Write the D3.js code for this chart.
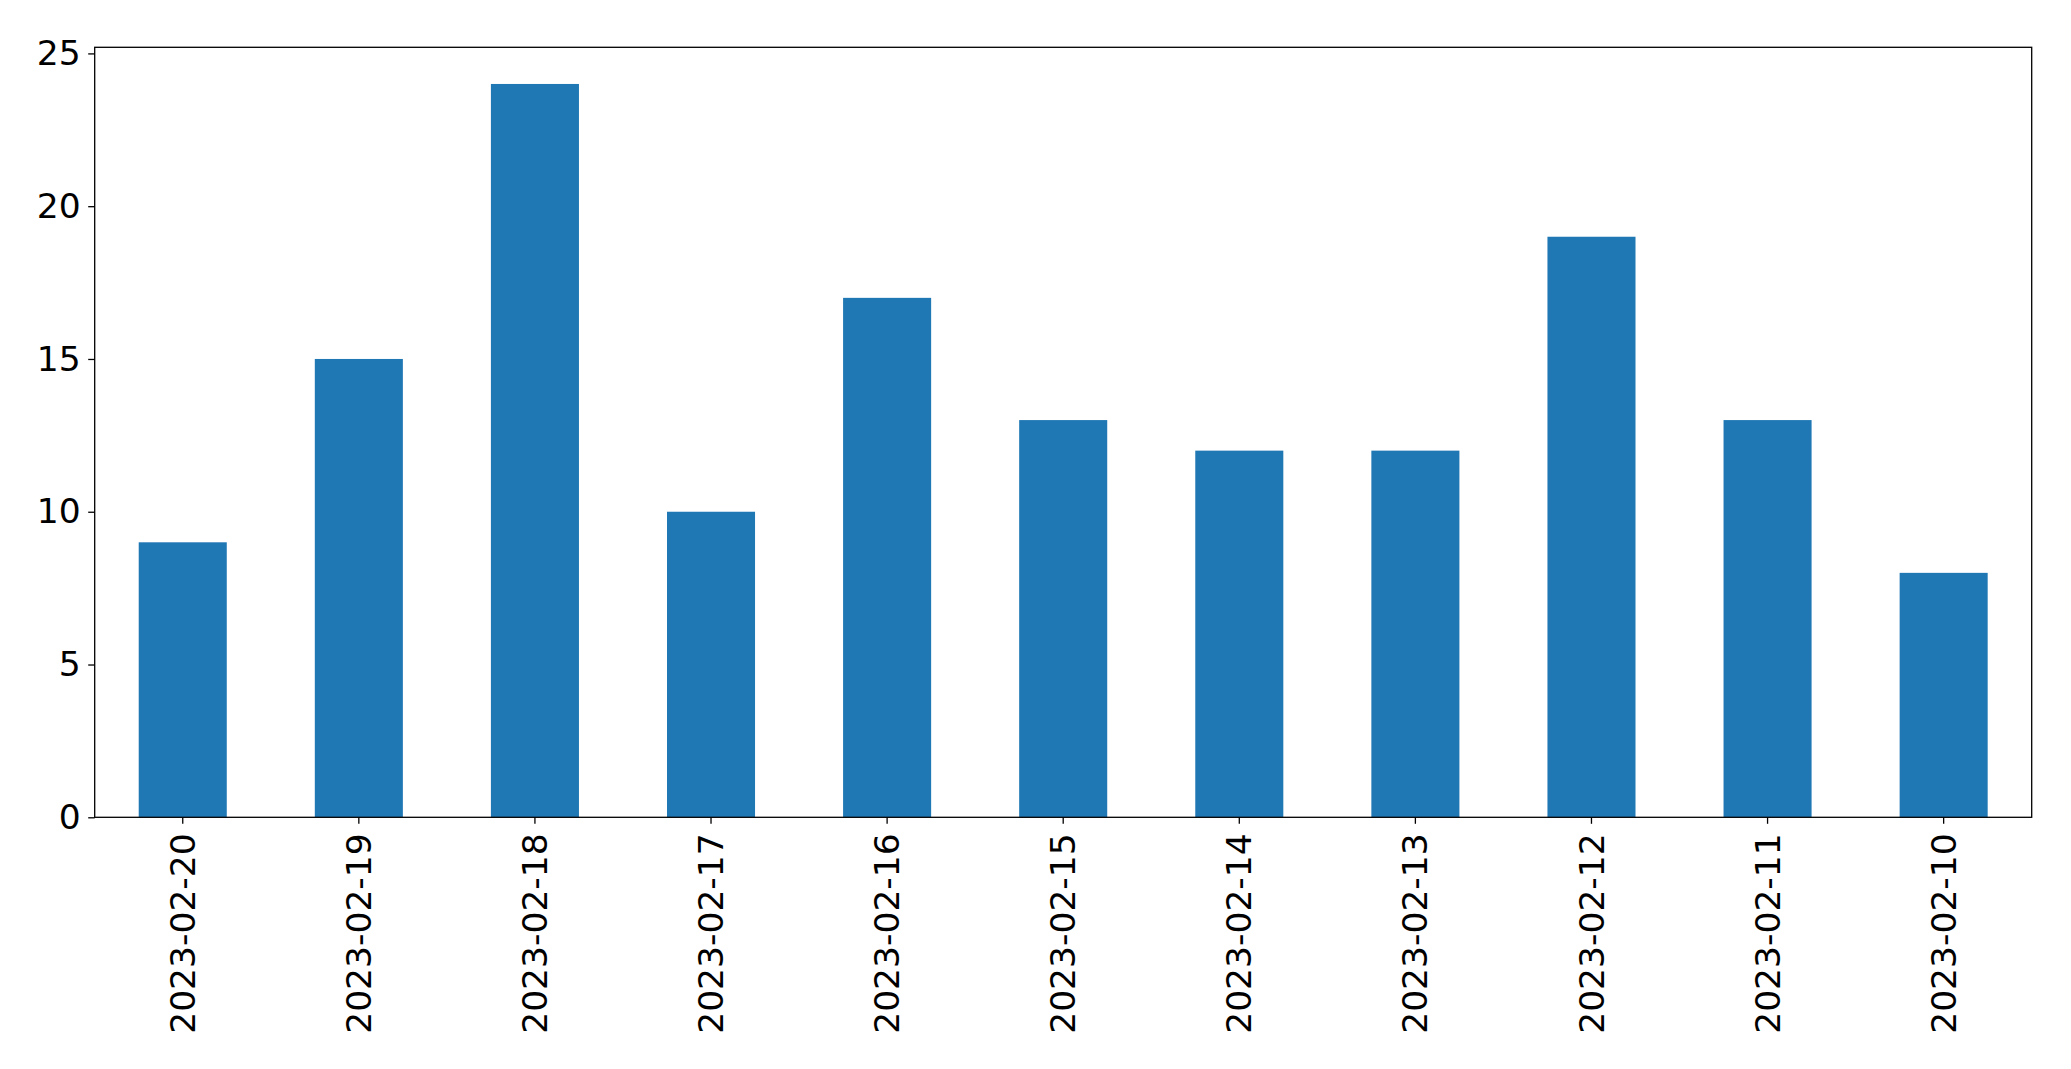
<!DOCTYPE html>
<html><head><meta charset="utf-8">
<script src="https://cdn.jsdelivr.net/npm/d3@7"></script>
<style>body{margin:0;background:#fff}svg{display:block}text{font-family:"DejaVu Sans",sans-serif}</style>
</head><body>
<script>
const categories = ["2023-02-20","2023-02-19","2023-02-18","2023-02-17","2023-02-16","2023-02-15","2023-02-14","2023-02-13","2023-02-12","2023-02-11","2023-02-10"];
const values = [9,15,24,10,17,13,12,12,19,13,8];
const yTicks = [0,5,10,15,20,25];

const W = 2071, H = 1069;
const m = {left:94.7, right:2031.7, top:47.3, bottom:817.3};
const svg = d3.select("body").append("svg").attr("width",W).attr("height",H);

const x = d3.scaleBand().domain(categories).range([m.left,m.right]).paddingInner(0.5).paddingOuter(0.25);
const y = d3.scaleLinear().domain([0,25.2]).range([m.bottom,m.top]);

svg.append("g").selectAll("rect").data(values).join("rect")
  .attr("x",(d,i)=>x(categories[i]))
  .attr("width",x.bandwidth())
  .attr("y",d=>y(d))
  .attr("height",d=>y(0)-y(d))
  .attr("fill","#1f77b4");

const fs = 34.5;
const ya = svg.append("g").attr("transform",`translate(${m.left},0)`)
  .call(d3.axisLeft(y).tickValues(yTicks).tickSize(6.5).tickPadding(7.5).tickFormat(d3.format("d")));
ya.select(".domain").remove();
ya.selectAll("text").attr("font-size",fs).attr("fill","#000").attr("font-family","DejaVu Sans");
ya.selectAll("line").attr("stroke","#000").attr("stroke-width",1.3);

const xa = svg.append("g").attr("transform",`translate(0,${m.bottom})`)
  .call(d3.axisBottom(x).tickSize(6.5).tickPadding(0));
xa.select(".domain").remove();
xa.selectAll("line").attr("stroke","#000").attr("stroke-width",1.3);
xa.selectAll("text")
  .attr("font-size",fs).attr("fill","#000").attr("font-family","DejaVu Sans")
  .attr("transform","rotate(-90)")
  .attr("text-anchor","end")
  .attr("x",-16).attr("y",0).attr("dy","0.35em");

svg.append("rect").attr("x",m.left).attr("y",m.top)
  .attr("width",m.right-m.left).attr("height",m.bottom-m.top)
  .attr("fill","none").attr("stroke","#000").attr("stroke-width",1.3);
</script>
</body></html>
